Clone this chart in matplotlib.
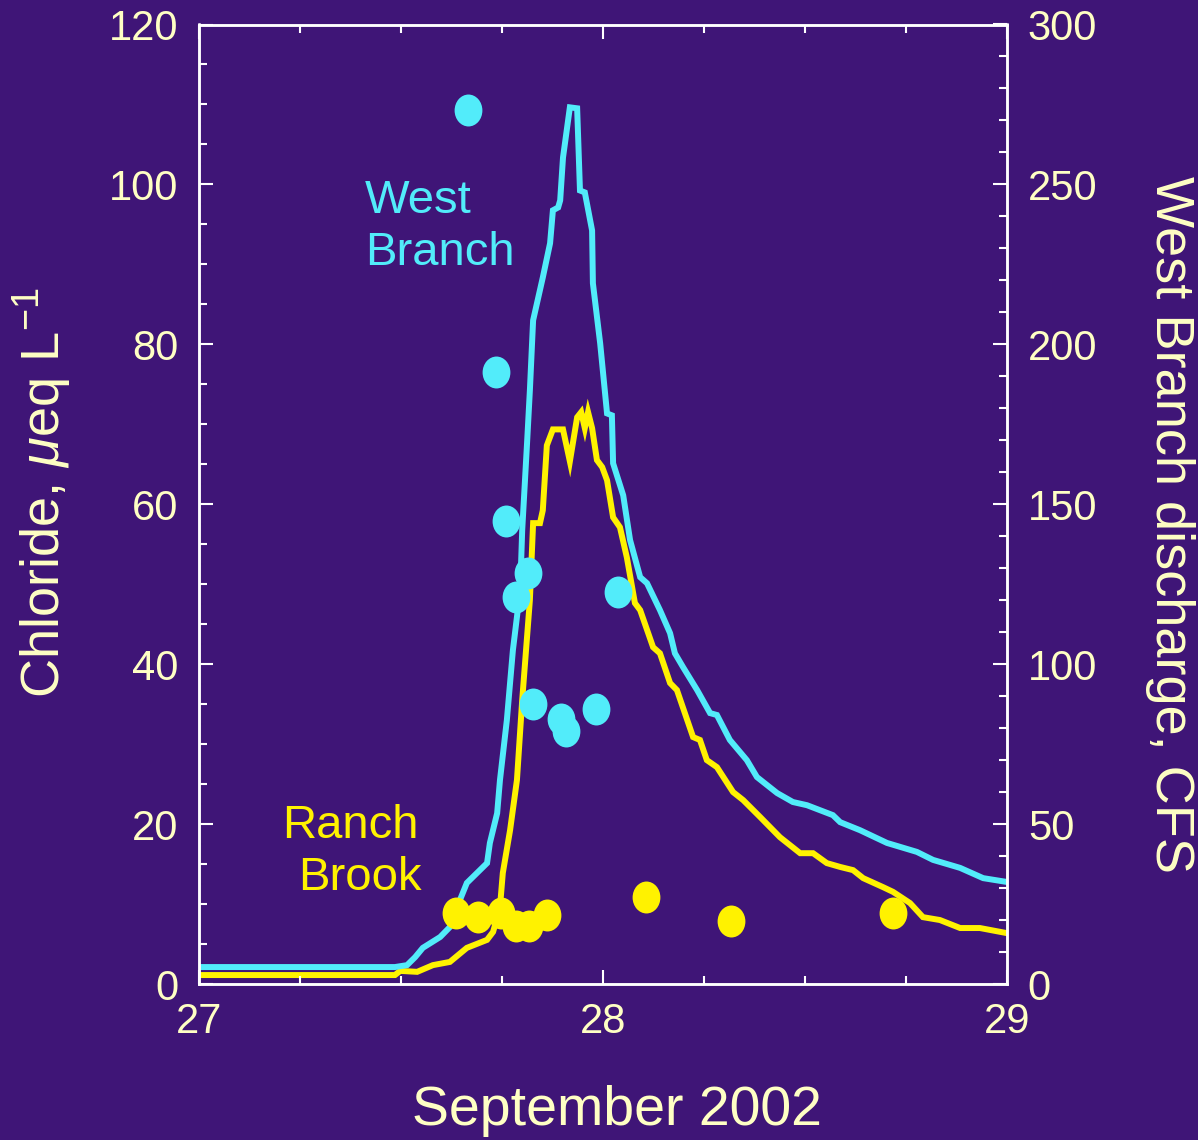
import matplotlib
matplotlib.use('Agg')
import matplotlib.pyplot as plt
from matplotlib.path import Path
from matplotlib.transforms import Affine2D
from matplotlib.ticker import MultipleLocator

plt.rcParams['font.family'] = ['Liberation Sans', 'DejaVu Sans']
plt.rcParams['mathtext.fontset'] = 'custom'
plt.rcParams['mathtext.rm'] = 'Liberation Sans'
plt.rcParams['mathtext.it'] = 'Liberation Sans:italic'

# --- colours ---
BG = '#3f1577'
CREAM = '#ffffc4'
CYAN = '#52ecfa'
YELLOW = '#fff200'

# --- discharge, CFS (right axis), day of September 2002 ---
wb_day = [27.000, 27.485, 27.515, 27.535, 27.554, 27.597, 27.621, 27.639, 27.663,
          27.688, 27.713, 27.720, 27.738, 27.745, 27.762, 27.777, 27.795, 27.800,
          27.812, 27.819, 27.827, 27.851, 27.869, 27.876, 27.889, 27.894, 27.901,
          27.918, 27.936, 27.943, 27.955, 27.973, 27.975, 27.993, 28.010, 28.022,
          28.025, 28.050, 28.067, 28.092, 28.109, 28.141, 28.166, 28.178, 28.198,
          28.233, 28.265, 28.282, 28.314, 28.356, 28.381, 28.431, 28.470, 28.505,
          28.569, 28.587, 28.636, 28.703, 28.777, 28.817, 28.884, 28.941, 29.000]
wb_cfs = [5.3, 5.3, 5.9, 8.4, 11.3, 14.7, 17.8, 24.1, 31.6,
          34.7, 37.8, 44.1, 53.4, 63.8, 82.5, 104.4, 123.1, 141.9,
          169.1, 185.6, 207.5, 220.9, 231.6, 241.9, 242.8, 245.0, 258.4,
          274.1, 273.8, 248.1, 247.5, 235.6, 219.1, 200.3, 178.4, 177.8,
          162.8, 152.8, 138.8, 127.2, 125.3, 116.9, 109.7, 103.4, 99.1,
          91.9, 84.7, 84.1, 76.3, 70.0, 64.7, 59.7, 56.9, 55.9,
          52.8, 50.6, 48.1, 44.1, 41.3, 38.8, 36.3, 33.1, 31.9]

rb_day = [27.000, 27.485, 27.498, 27.540, 27.579, 27.621, 27.663, 27.713, 27.728,
          27.745, 27.752, 27.770, 27.787, 27.800, 27.819, 27.827, 27.844, 27.851,
          27.861, 27.876, 27.901, 27.918, 27.936, 27.946, 27.955, 27.963, 27.973,
          27.985, 27.998, 28.010, 28.025, 28.042, 28.059, 28.079, 28.092, 28.124,
          28.141, 28.166, 28.183, 28.223, 28.240, 28.257, 28.282, 28.322, 28.347,
          28.389, 28.438, 28.488, 28.520, 28.554, 28.587, 28.619, 28.644, 28.693,
          28.718, 28.760, 28.792, 28.834, 28.884, 28.933, 29.000]
rb_cfs = [2.8, 2.8, 4.1, 3.8, 5.9, 6.9, 11.3, 13.8, 16.3,
          24.1, 34.7, 48.1, 63.8, 88.8, 120.0, 144.1, 144.1, 148.1,
          168.4, 173.4, 173.4, 163.4, 177.2, 178.8, 173.8, 178.8, 173.8,
          163.8, 161.6, 157.5, 145.9, 142.8, 133.4, 119.1, 116.9, 105.3,
          103.4, 94.1, 91.9, 77.2, 76.3, 70.0, 67.8, 60.0, 57.5,
          52.2, 45.9, 40.9, 40.9, 37.8, 36.6, 35.6, 33.1, 30.3,
          28.8, 25.3, 20.9, 20.0, 17.5, 17.5, 15.9]

# --- chloride samples, ueq/L (left axis) ---
wb_cl_day = [27.666, 27.735, 27.760, 27.814, 27.785, 28.037, 27.827, 27.983, 27.896, 27.908]
wb_cl = [109.3, 76.6, 57.9, 51.4, 48.4, 49.0, 35.0, 34.4, 33.1, 31.6]
rb_cl_day = [27.636, 27.691, 27.748, 27.785, 27.817, 27.861, 28.106, 28.317, 28.718]
rb_cl = [8.9, 8.4, 8.9, 7.2, 7.2, 8.6, 10.9, 7.9, 8.9]

W, H = 1198, 1140
fig = plt.figure(figsize=(W / 100, H / 100), dpi=100, facecolor=BG)
ax = fig.add_axes([199 / W, 1 - 984 / H, 808 / W, 959.5 / H])
ax2 = ax.twinx()
ax.set_zorder(ax2.get_zorder() + 1)
ax.patch.set_visible(False)
ax2.patch.set_facecolor(BG)

# discharge lines
ax2.plot(rb_day, rb_cfs, color=YELLOW, lw=4.3, solid_joinstyle='miter')
ax2.plot(wb_day, wb_cfs, color=CYAN, lw=4.3, solid_joinstyle='miter')

# slightly tall oval markers
oval = Path.unit_circle().transformed(Affine2D().scale(0.87, 1.0))
ax.plot(wb_cl_day, wb_cl, ls='none', marker=oval, ms=23, color=CYAN, mec='none')
ax.plot(rb_cl_day, rb_cl, ls='none', marker=oval, ms=23, color=YELLOW, mec='none')

ax.set_xlim(27, 29)
ax.set_ylim(0, 120)
ax2.set_ylim(0, 300)
ax.xaxis.set_major_locator(MultipleLocator(1))
ax.xaxis.set_minor_locator(MultipleLocator(0.25))
ax.yaxis.set_major_locator(MultipleLocator(20))
ax.yaxis.set_minor_locator(MultipleLocator(5))
ax2.yaxis.set_major_locator(MultipleLocator(50))
ax2.yaxis.set_minor_locator(MultipleLocator(10))

for a in (ax, ax2):
    for s in a.spines.values():
        s.set_color('white')
        s.set_linewidth(1.8)

ax.tick_params(axis='x', which='both', direction='in', top=True, bottom=True,
               colors='white', labelcolor=CREAM, labelsize=30, pad=13)
ax.tick_params(axis='y', which='both', direction='in', left=True, right=False,
               colors='white', labelcolor=CREAM, labelsize=30, pad=15)
ax2.tick_params(axis='y', which='both', direction='in', right=True,
                colors='white', labelcolor=CREAM, labelsize=30, pad=15)
for a in (ax, ax2):
    a.tick_params(which='major', length=10, width=1.5)
    a.tick_params(which='minor', length=5.5, width=1.5)

# axis titles
fig.text(617 / W, 1 - 1125 / H, 'September 2002', color=CREAM, fontsize=40,
         ha='center', va='baseline')
fig.text(43 / W, 1 - 493 / H, r'Chloride, $\mu$eq L$^{\mathregular{-1}}$', color=CREAM,
         fontsize=39, rotation=90, ha='center', va='center')
fig.text(1170 / W, 1 - 525 / H, 'West Branch discharge, CFS', color=CREAM, fontsize=39,
         rotation=-90, ha='center', va='center')

# series labels
fig.text(365 / W, 1 - 213 / H, 'West', color=CYAN, fontsize=34, va='baseline')
fig.text(365 / W, 1 - 265 / H, 'Branch', color=CYAN, fontsize=34, va='baseline')
fig.text(282 / W, 1 - 838 / H, 'Ranch', color=YELLOW, fontsize=34, va='baseline')
fig.text(298 / W, 1 - 890 / H, 'Brook', color=YELLOW, fontsize=34, va='baseline')

fig.savefig('out.png', dpi=100, facecolor=BG)
